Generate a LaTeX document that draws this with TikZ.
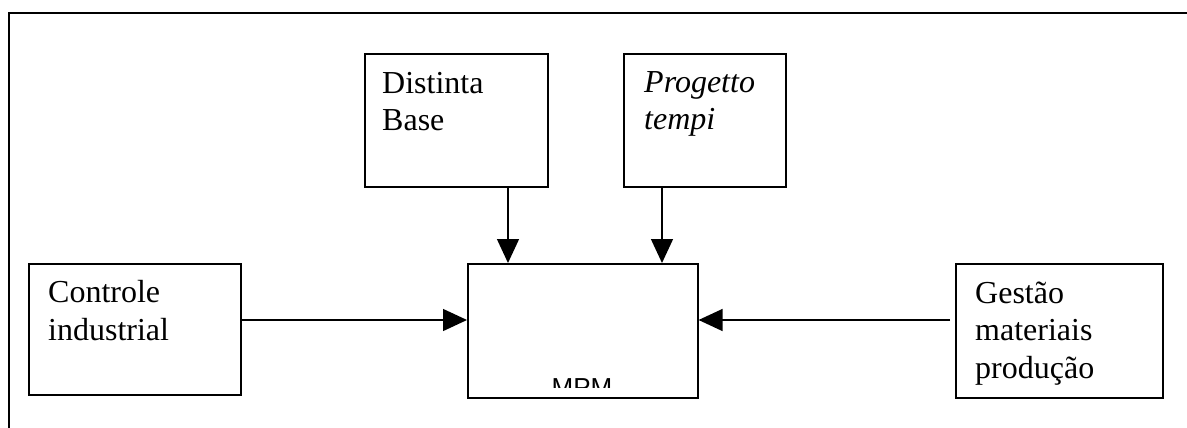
\documentclass[tikz,border=0pt]{standalone}
\usepackage{fontspec}
\setmainfont{Liberation Serif}
\newfontfamily\labelsans{Liberation Sans}
\usetikzlibrary{arrows.meta}

\begin{document}
\begin{tikzpicture}[x=1pt,y=-1pt,
  blockbox/.style={draw=black, line width=1.6pt, inner sep=0pt, anchor=north west},
  blocktext/.style={inner sep=0pt, anchor=base west, align=left,
    font=\fontsize{32}{37.5}\selectfont},
  link/.style={line width=1.4pt, -{Triangle[length=24pt,width=22pt]}}]
  \useasboundingbox (0,0) rectangle (1187,428);

  % outer frame (continues past the page edges)
  \draw[line width=2pt] (9,440) -- (9,13.5) -- (1200,13.5);

  % blocks
  \node[blockbox, minimum width=212pt, minimum height=131pt] (ctrl) at (28,263) {};
  \node[blockbox, minimum width=183pt, minimum height=133pt] (dist) at (364,53) {};
  \node[blockbox, minimum width=162pt, minimum height=133pt] (prog) at (623,53) {};
  \node[blockbox, minimum width=230pt, minimum height=134pt] (mpm) at (467,263) {};
  \node[blockbox, minimum width=207pt, minimum height=134pt] (gest) at (955,263) {};

  % block labels (anchored on the baseline of their last line)
  \node[blocktext] (ctrltext) at (48,340) {Controle\\industrial};
  \node[blocktext] (disttext) at (382,130.5) {Distinta\\Base};
  \node[blocktext, font=\fontsize{32}{37.5}\selectfont\itshape] (progtext) at (644,129.5) {Progetto\\tempi};
  \node[blocktext] (gesttext) at (975,378) {Gestão\\materiais\\produção};

  % MPM label, cut off by the block's lower part
  \begin{scope}
    \clip (467,300) rectangle (697,387);
    \node[inner sep=0pt, anchor=base, font=\labelsans\fontsize{26}{30}\selectfont] (mpmtext) at (582,396) {MPM};
  \end{scope}

  % connectors
  \coordinate (xa) at (508,0);
  \coordinate (xb) at (662,0);
  \coordinate (yh) at (0,320);
  \draw[link] (dist.south -| xa) -- (mpm.north -| xa);
  \draw[link] (prog.south -| xb) -- (mpm.north -| xb);
  \draw[link] (ctrl.east |- yh) -- (mpm.west |- yh);
  \draw[link] ([xshift=-5pt]gest.west |- yh) -- (mpm.east |- yh);
\end{tikzpicture}
\end{document}
